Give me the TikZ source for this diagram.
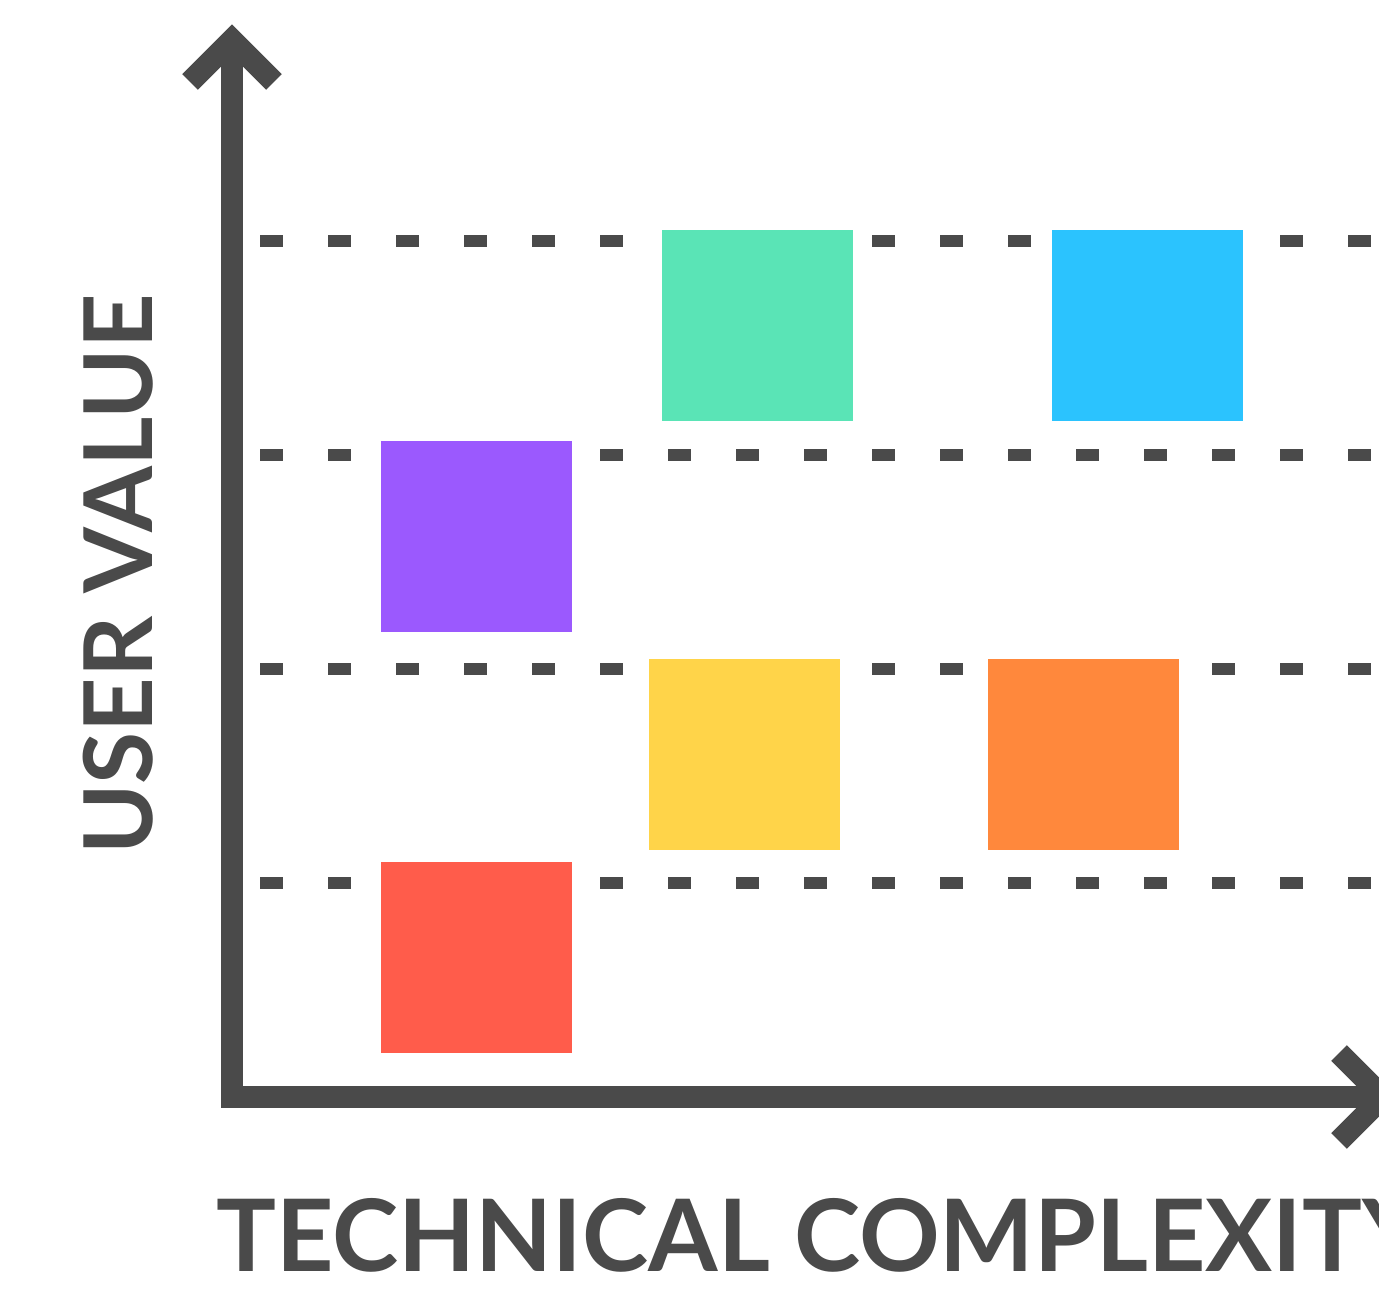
\documentclass[tikz,border=0pt]{standalone}
\usepackage{fontspec}
\setmainfont{Lato}
\usetikzlibrary{calc}
\definecolor{axisgray}{HTML}{4A4A4A}
\definecolor{cgreen}{HTML}{5AE4B6}
\definecolor{cblue}{HTML}{2BC3FE}
\definecolor{cpurple}{HTML}{9B59FE}
\definecolor{cyellow}{HTML}{FFD449}
\definecolor{corange}{HTML}{FF883C}
\definecolor{cred}{HTML}{FF5C4B}
\tikzset{
  axisline/.style={draw=axisgray, line width=22pt, line join=miter, line cap=butt},
  gridline/.style={draw=axisgray, line width=12pt, dash pattern=on 23pt off 45pt},
  sq/.style={draw=none, inner sep=0pt, minimum size=191pt},
  axislabel/.style={text=axisgray, font=\fontsize{100pt}{100pt}\selectfont\bfseries, inner sep=0pt}
}
\begin{document}
\begin{tikzpicture}[x=1pt,y=1pt]
\useasboundingbox (0,0) rectangle (1379,1290);
\clip (0,0) rectangle (1379,1290);
% grid lines
\draw[gridline] (260,1049) -- (1379,1049);
\draw[gridline] (260,835) -- (1379,835);
\draw[gridline] (260,621) -- (1379,621);
\draw[gridline] (260,407) -- (1379,407);
% squares
\node[sq, fill=cgreen] (green) at (757.5,964) {};
\node[sq, fill=cblue] (blue) at (1147,964) {};
\node[sq, fill=cpurple] (purple) at (476.5,753.5) {};
\node[sq, fill=cyellow] (yellow) at (744.5,535.5) {};
\node[sq, fill=corange] (orange) at (1083.5,535.5) {};
\node[sq, fill=cred] (red) at (476.5,332) {};
% axes
\coordinate (ytop) at (232,1250);
\coordinate (origin) at (232,193);
\coordinate (xend) at (1383,193);
\draw[axisline] (ytop) -- (origin) -- (xend);
\draw[axisline] ($(ytop)+(-42,-42)$) -- (ytop) -- ($(ytop)+(42,-42)$);
\draw[axisline] ($(xend)+(-44,44)$) -- (xend) -- ($(xend)+(-44,-44)$);
% labels
\node[axislabel, anchor=base west] (xlabel) at (216,18) {TECHNICAL COMPLEXITY};
\node[axislabel, font=\fontsize{95pt}{95pt}\selectfont\bfseries, anchor=base west, rotate=90] (ylabel) at (152,435) {USER VALUE};
\end{tikzpicture}
\end{document}
